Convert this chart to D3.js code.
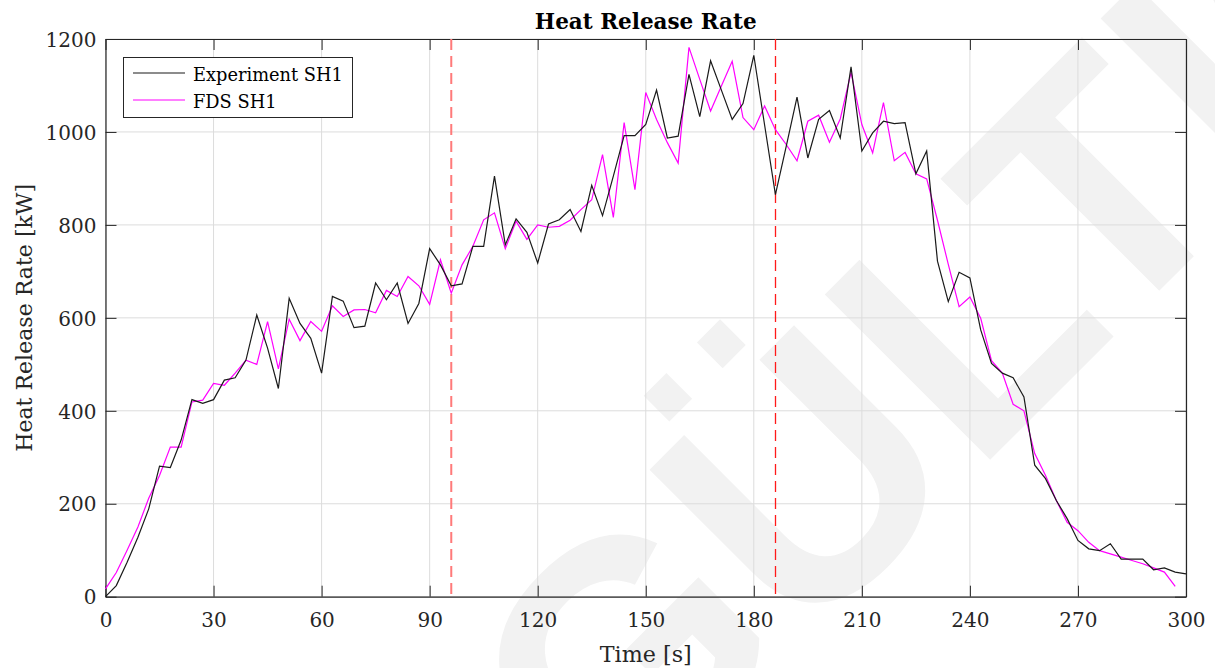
<!DOCTYPE html>
<html><head><meta charset="utf-8">
<script src="https://cdn.jsdelivr.net/npm/d3@7"></script>
<style>body{margin:0;background:#fff}svg{display:block}</style>
</head><body>
<svg id="chart" width="1215" height="668"></svg>
<script>
// ---------- data ----------
const expTime = [0,3,6,9,12,15,18,21,24,27,30,33,36,39,42,45,48,51,54,57,60,63,66,69,72,75,78,81,84,87,90,93,96,99,102,105,108,111,114,117,120,123,126,129,132,135,138,141,144,147,150,153,156,159,162,165,168,171,174,177,180,183,186,189,192,195,198,201,204,207,210,213,216,219,222,225,228,231,234,237,240,243,246,249,252,255,258,261,264,267,270,273,276,279,282,285,288,291,294,297,300];
const expHRR = [0,24,74,128,189,281,278,337,424,416,424,466,471,509,606,535,448,642,588,556,481,646,636,579,582,675,639,675,588,631,749,714,669,673,754,754,905,757,813,784,718,802,811,833,786,885,820,905,992,992,1016,1090,987,991,1124,1033,1153,1090,1027,1061,1165,1015,865,969,1075,944,1027,1046,987,1140,959,998,1023,1018,1020,910,959,722,635,698,686,574,502,481,471,430,283,254,207,168,121,103,99,114,81,81,81,58,62,53,49];
const fdsTime = [0,3,6,9,12,15,18,21,24,27,30,33,36,39,42,45,48,51,54,57,60,63,66,69,72,75,78,81,84,87,90,93,96,99,102,105,108,111,114,117,120,123,126,129,132,135,138,141,144,147,150,153,156,159,162,165,168,171,174,177,180,183,186,189,192,195,198,201,204,207,210,213,216,219,222,225,228,231,234,237,240,243,246,249,252,255,258,261,264,267,270,273,276,279,282,285,288,291,294,297];
const fdsHRR = [17,52,100,150,212,261,322,322,419,423,459,455,481,509,500,592,490,597,551,592,571,626,603,617,618,611,659,646,689,669,629,725,653,714,754,811,826,749,808,769,800,795,797,810,833,854,951,816,1020,876,1085,1027,977,933,1182,1113,1045,1099,1152,1031,1005,1056,1005,973,938,1023,1036,978,1028,1128,1016,955,1063,938,956,910,899,810,715,624,645,599,508,481,414,400,308,261,207,160,142,117,99,92,85,78,71,62,53,22];
const markerTimes = [96, 186];
const xTicks = [0,30,60,90,120,150,180,210,240,270,300];
const yTicks = [0,200,400,600,800,1000,1200];
const seriesNames = ["Experiment SH1", "FDS SH1"];
const titleText = "Heat Release Rate";
const xLabel = "Time [s]";
const yLabel = "Heat Release Rate [kW]";
const watermark = "UNGÜLTIG";

// ---------- layout ----------
const L = 105.5, R = 1186, T = 39, B = 596.7;
const font = "'DejaVu Serif', serif";
const axisCol = "#262626";
const svg = d3.select("#chart");

const x = d3.scaleLinear().domain([0,300]).range([L,R]);
const y = d3.scaleLinear().domain([0,1200]).range([B,T]);

// watermark
svg.append("text").text(watermark)
  .attr("transform","translate(885,565) rotate(-45)")
  .attr("text-anchor","middle")
  .attr("font-family","'Liberation Sans', Arial, sans-serif").attr("font-weight","bold")
  .attr("font-size",340).attr("fill","#f2f2f2");

// grid
const g = svg.append("g");
g.selectAll(".gx").data(xTicks).join("line")
  .attr("x1",d=>x(d)).attr("x2",d=>x(d)).attr("y1",T).attr("y2",B)
  .attr("stroke","#dcdcdc").attr("stroke-width",1);
g.selectAll(".gy").data(yTicks).join("line")
  .attr("y1",d=>y(d)).attr("y2",d=>y(d)).attr("x1",L).attr("x2",R)
  .attr("stroke","#dcdcdc").attr("stroke-width",1);

// axes
function styleAxis(sel){
  sel.selectAll("path").attr("stroke",axisCol).attr("stroke-width",1.2);
  sel.selectAll("line").attr("stroke",axisCol).attr("stroke-width",1);
  sel.selectAll("text").attr("fill",axisCol).attr("font-family",font).attr("font-size",20);
}
const ax = svg.append("g").attr("transform",`translate(0,${B})`)
  .call(d3.axisBottom(x).tickValues(xTicks).tickFormat(d3.format("d")).tickSizeInner(-11).tickSizeOuter(0).tickPadding(0));
styleAxis(ax);
ax.selectAll("text").attr("y",30).attr("dy",0);
const axTop = svg.append("g").attr("transform",`translate(0,${T})`)
  .call(d3.axisTop(x).tickValues(xTicks).tickSizeInner(-11).tickSizeOuter(0).tickFormat(""));
styleAxis(axTop);
const ay = svg.append("g").attr("transform",`translate(${L},0)`)
  .call(d3.axisLeft(y).tickValues(yTicks).tickFormat(d3.format("d")).tickSizeInner(-11).tickSizeOuter(0).tickPadding(9));
styleAxis(ay);
ay.selectAll("text").attr("dy","0.36em");
const ayR = svg.append("g").attr("transform",`translate(${R},0)`)
  .call(d3.axisRight(y).tickValues(yTicks).tickSizeInner(-11).tickSizeOuter(0).tickFormat(""));
styleAxis(ayR);

// marker lines
const mk = svg.append("g");
mk.append("line").datum(markerTimes[0])
  .attr("x1",d=>x(d)).attr("x2",d=>x(d)).attr("y1",T).attr("y2",B)
  .attr("stroke","#ff7a7a").attr("stroke-width",2).attr("stroke-dasharray","11,6");
mk.append("line").datum(markerTimes[1])
  .attr("x1",d=>Math.floor(x(d))+0.5).attr("x2",d=>Math.floor(x(d))+0.5).attr("y1",T).attr("y2",B)
  .attr("stroke","#ff1a1a").attr("stroke-width",1.3).attr("stroke-dasharray","11,6");

// series
const lineGen = d3.line().x(d=>x(d[0])).y(d=>y(d[1]));
svg.append("path").datum(fdsTime.map((t,i)=>[t,fdsHRR[i]]))
  .attr("d",lineGen).attr("fill","none").attr("stroke","#ff00ff").attr("stroke-width",1.2);
svg.append("path").datum(expTime.map((t,i)=>[t,expHRR[i]]))
  .attr("d",lineGen).attr("fill","none").attr("stroke","#1a1a1a").attr("stroke-width",1.2);

function fitText(sel, target){
  const w = sel.node().getComputedTextLength();
  const fs = parseFloat(sel.attr("font-size"));
  sel.attr("font-size", fs*target/w);
}

// legend
const lg = svg.append("g");
lg.append("rect").attr("x",123.5).attr("y",57.5).attr("width",229).attr("height",60)
  .attr("fill","#fff").attr("stroke",axisCol).attr("stroke-width",1);
const lgCols = ["#1a1a1a","#ff00ff"];
const lgY = [73,100];
seriesNames.forEach((n,i)=>{
  lg.append("line").attr("x1",133).attr("x2",185).attr("y1",lgY[i]).attr("y2",lgY[i])
    .attr("stroke",lgCols[i]).attr("stroke-width",1.2);
});
const lt0 = lg.append("text").text(seriesNames[0]).attr("x",193).attr("y",81)
  .attr("font-family",font).attr("font-size",18).attr("fill","#000");
fitText(lt0,150);
lg.append("text").text(seriesNames[1]).attr("x",193).attr("y",108)
  .attr("font-family",font).attr("font-size",lt0.attr("font-size")).attr("fill","#000");

// titles
const tt = svg.append("text").text(titleText).attr("x",(L+R)/2).attr("y",29)
  .attr("text-anchor","middle").attr("font-family",font).attr("font-weight","bold")
  .attr("font-size",22).attr("fill","#000");
fitText(tt,222);
const xl = svg.append("text").text(xLabel).attr("x",(L+R)/2).attr("y",662)
  .attr("text-anchor","middle").attr("font-family",font).attr("font-size",22).attr("fill",axisCol);
fitText(xl,92);
const yl = svg.append("text").text(yLabel)
  .attr("transform",`translate(32,${(T+B)/2}) rotate(-90)`)
  .attr("text-anchor","middle").attr("font-family",font).attr("font-size",22).attr("fill",axisCol);
fitText(yl,268);
</script>
</body></html>
